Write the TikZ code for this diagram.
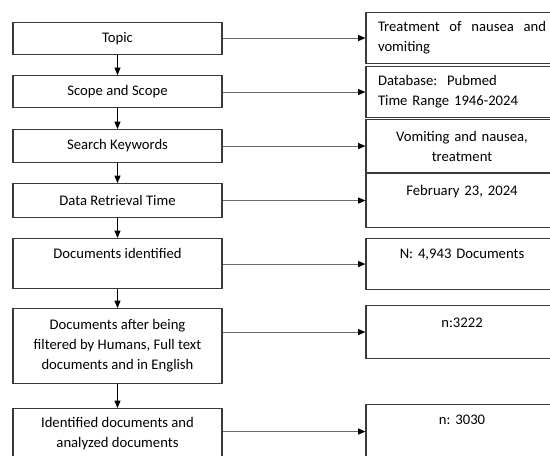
\documentclass[tikz,border=0pt]{standalone}
\usepackage{fontspec}
\setmainfont{Carlito}
\frenchspacing
\usetikzlibrary{arrows.meta}
\definecolor{boxline}{HTML}{3A3A3A}
\definecolor{linkline}{HTML}{6A6A6A}
\begin{document}
\begin{tikzpicture}[x=0.75pt,y=-0.75pt,
    font=\fontsize{11}{15}\selectfont,
    stage/.style={draw=boxline,line width=0.8pt,anchor=north,minimum width=156.75pt,inner xsep=4pt,inner ysep=0pt,align=center},
    result/.style={draw=boxline,line width=0.8pt,anchor=north,minimum width=144pt,inner xsep=9pt,inner ysep=0pt},
    next/.style={-{Triangle[length=5.5pt,width=4.5pt]},line width=0.6pt,black},
    link/.style={-{Triangle[length=5.5pt,width=4.5pt,color=black]},line width=0.8pt,linkline}]
  \useasboundingbox (0,0) rectangle (550,455);
  \clip (0,0) rectangle (550,455);
  \node[stage,minimum height=24pt] (s0) at (117.5,22) {Topic};
  \node[stage,minimum height=24pt] (s1) at (117.5,75) {Scope and Scope};
  \node[stage,minimum height=24.75pt] (s2) at (117.5,129) {Search Keywords};
  \node[stage,minimum height=25.5pt] (s3) at (117.5,183) {Data Retrieval Time};
  \node[stage,text height=14.8pt,text depth=22.7pt] (s4) at (117.5,238) {Documents identified};
  \node[stage,minimum height=56.25pt] (s5) at (117.5,308) {Documents after being\\filtered by Humans, Full text\\documents and in English};
  \node[stage,minimum height=37.5pt] (s6) at (117.5,408) {Identified documents and\\analyzed documents};
  \node[result,minimum height=38.25pt,text width=126pt,align=left] (r0) at (462,12) {Treatment\hfill of\hfill nausea\hfill and\\vomiting};
  \node[result,minimum height=38.25pt,text width=126pt,align=left] (r1) at (462,66) {Database:\ \ Pubmed\\Time Range 1946-2024};
  \node[result,minimum height=39.75pt,text width=126pt,align=center] (r2) at (462,119) {Vomiting and nausea,\\treatment};
  \node[result,minimum height=0pt,text width=126pt,align=center,text height=16.3pt,text depth=24.2pt] (r3) at (462,173) {February 23, 2024};
  \node[result,minimum height=0pt,text width=126pt,align=center,text height=14.8pt,text depth=23.5pt] (r4) at (462,238) {N: 4,943 Documents};
  \node[result,minimum height=0pt,text width=126pt,align=center,text height=16.3pt,text depth=23.5pt] (r5) at (462,305) {n:3222};
  \node[result,minimum height=0pt,text width=126pt,align=center,text height=14.8pt,text depth=25.7pt] (r6) at (462,404) {n: 3030};
  \begin{scope}[next]
    \draw (s0) to (s1);
    \draw (s1) to (s2);
    \draw (s2) to (s3);
    \draw (s3) to (s4);
    \draw (s4) to (s5);
    \draw (s5) to (s6);
  \end{scope}
  \begin{scope}[link]
    \draw (s0.east |- r0.west) to (r0.west);
    \draw (s1.east |- r1.west) to (r1.west);
    \draw (s2.east |- r2.west) to (r2.west);
    \draw (s3.east |- r3.west) to (r3.west);
    \draw (s4.east |- r4.west) to (r4.west);
    \draw (s5.east |- r5.west) to (r5.west);
    \draw (s6.east |- r6.west) to (r6.west);
  \end{scope}
\end{tikzpicture}
\end{document}
